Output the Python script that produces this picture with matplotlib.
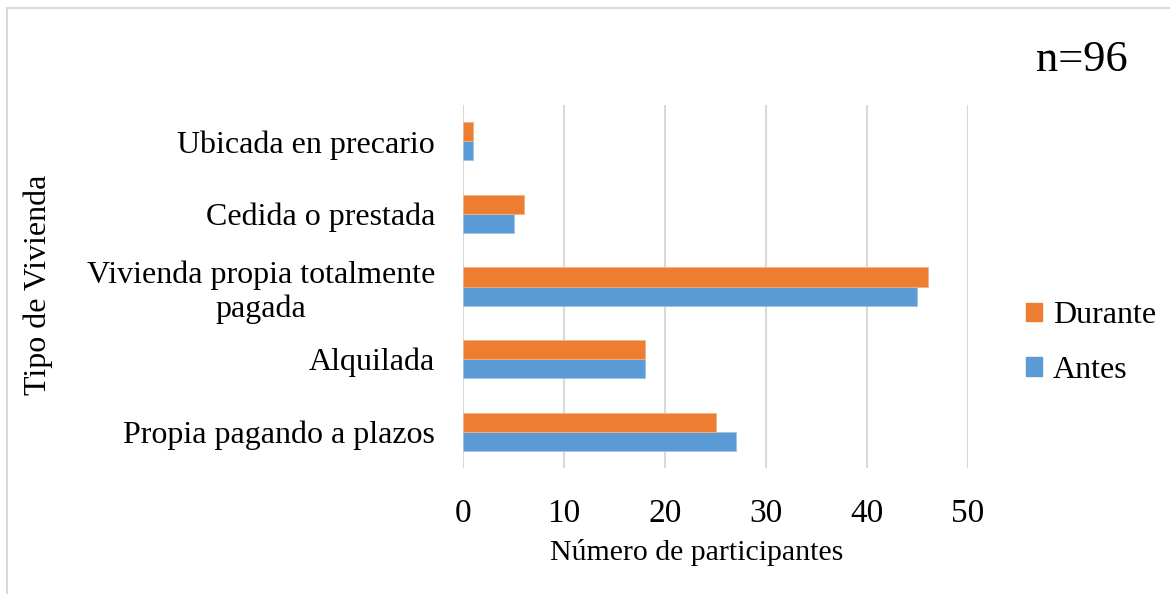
import matplotlib
matplotlib.use("Agg")
import matplotlib.pyplot as plt
import numpy as np
from matplotlib.lines import Line2D

categories = ["Propia pagando a plazos", "Alquilada",
              "Vivienda propia totalmente\npagada", "Cedida o prestada",
              "Ubicada en precario"]
antes = [27, 18, 45, 5, 1]
durante = [25, 18, 46, 6, 1]
xticks = [0, 10, 20, 30, 40, 50]

plt.rcParams['font.family'] = ['Liberation Serif', 'DejaVu Serif']

fig = plt.figure(figsize=(11.7, 5.94), dpi=100)
W, H = 1170, 594
ax = fig.add_axes([463 / W, 1 - 468 / H, (968 - 463) / W, (468 - 105) / H])

y = np.arange(len(categories))
h = 0.262
ax.barh(y - h / 2, antes, height=h, color="#5B9BD5", label="Antes", zorder=3,
        edgecolor="#9DC3E6", linewidth=0.6)
ax.barh(y + h / 2, durante, height=h, color="#ED7D31", label="Durante", zorder=3,
        edgecolor="#F4B183", linewidth=0.6)

ax.set_xlim(0, 50)
ax.set_ylim(-0.5, len(categories) - 0.5)
ax.set_xticks(xticks)
ax.set_xticklabels([str(t) for t in xticks], fontsize=24)
ax.set_yticks(y)
ax.set_yticklabels(categories, fontsize=23, linespacing=1.2,
                   multialignment='center')
ax.tick_params(axis='both', length=0)
ax.tick_params(axis='x', pad=22)
ax.tick_params(axis='y', pad=20)
ax.grid(axis='x', color="#D9D9D9", linewidth=1.5, zorder=0)
for s in ax.spines.values():
    s.set_visible(False)

fig.text(697 / W, 1 - 552 / H, "Número de participantes", fontsize=21.5,
         ha='center', va='center')
fig.text(38 / W, 1 - 285 / H, "Tipo de Vivienda", fontsize=23, rotation=90,
         ha='center', va='center')
fig.text(1128 / W, 1 - 60 / H, "n=96", fontsize=32, ha='right', va='center')

handles = [plt.Rectangle((0, 0), 1, 1, color="#ED7D31"),
           plt.Rectangle((0, 0), 1, 1, color="#5B9BD5")]
fig.legend(handles, ["Durante", "Antes"], loc='center left',
           bbox_to_anchor=(1026 / W, 1 - 343 / H), frameon=False, fontsize=23,
           handlelength=0.5, handleheight=0.5, handletextpad=0.35,
           labelspacing=0.8, borderaxespad=0, borderpad=0)

# outer frame lines (left and top)
fig.add_artist(Line2D([6.5 / W, 6.5 / W], [0, 1 - 8 / H], color="#D9D9D9",
                      linewidth=1.5, transform=fig.transFigure))
fig.add_artist(Line2D([6.5 / W, 1], [1 - 8 / H, 1 - 8 / H], color="#D9D9D9",
                      linewidth=1.5, transform=fig.transFigure))

fig.savefig("out.png", dpi=100)
